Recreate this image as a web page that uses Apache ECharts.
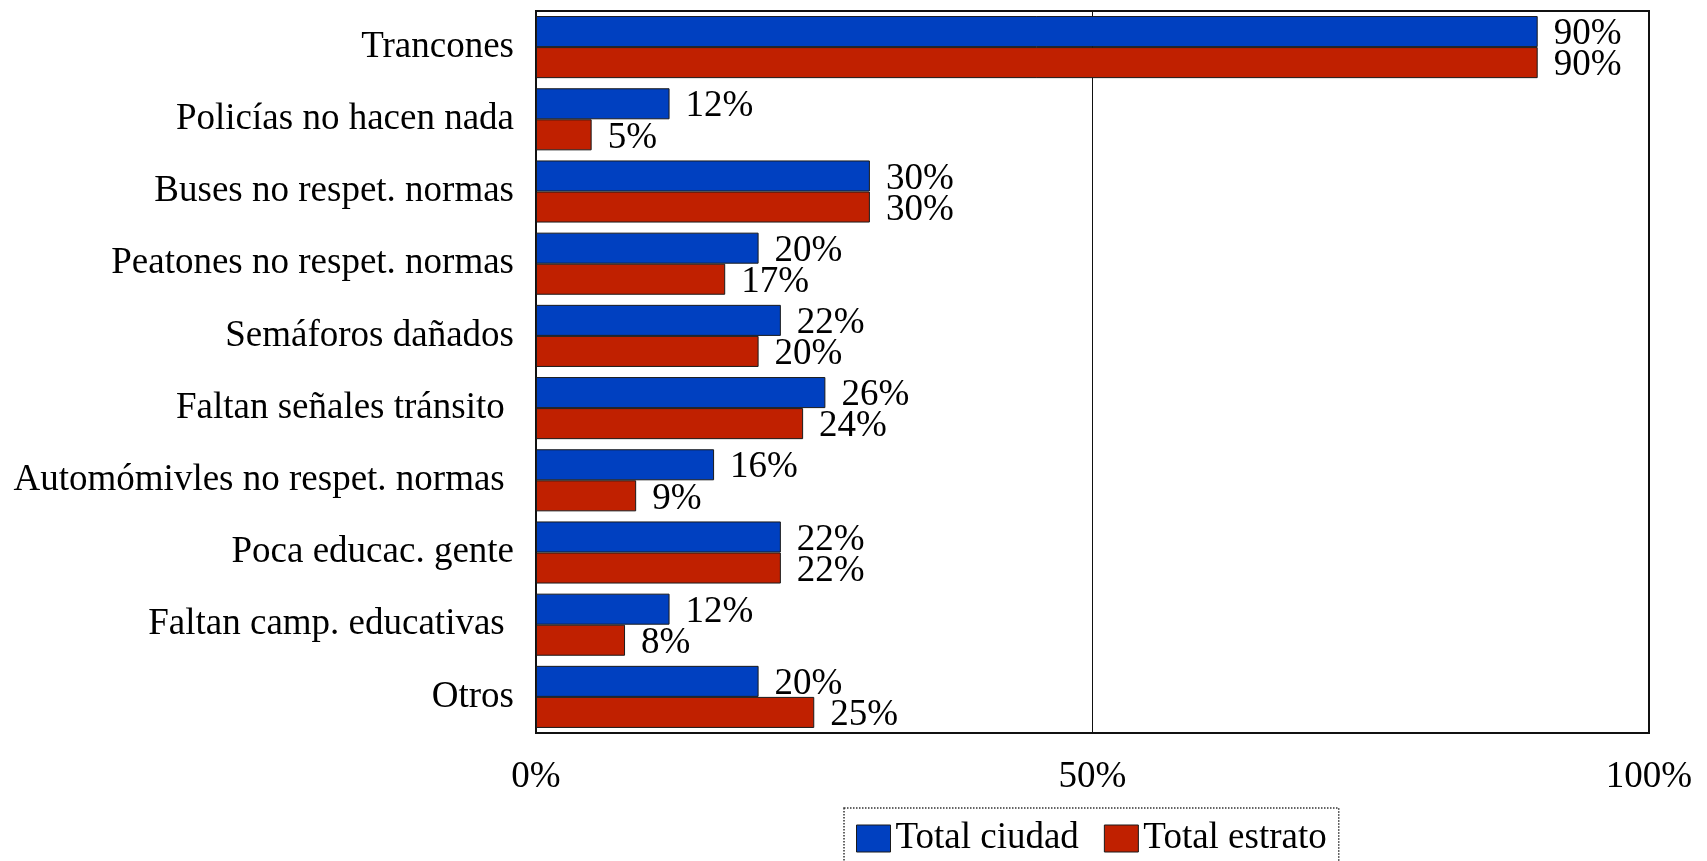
<!DOCTYPE html>
<html>
<head>
<meta charset="utf-8">
<script src="https://cdn.jsdelivr.net/npm/echarts@6/dist/echarts.min.js"></script>
<style>
html,body{margin:0;padding:0;background:#fff;}
#c{width:1707px;height:861px;}
</style>
</head>
<body>
<div id="c"></div>
<script>
const categories = [
  "Trancones",
  "Policías no hacen nada",
  "Buses no respet. normas",
  "Peatones no respet. normas",
  "Semáforos dañados",
  "Faltan señales tránsito ",
  "Automómivles no respet. normas ",
  "Poca educac. gente",
  "Faltan camp. educativas ",
  "Otros"
];
const seriesNames = ["Total ciudad", "Total estrato"];
const totalCiudad = [90, 12, 30, 20, 22, 26, 16, 22, 12, 20];
const totalEstrato = [90, 5, 30, 17, 20, 24, 9, 22, 8, 25];
const xTicks = [0, 50, 100];

const FONT = '"Liberation Serif", "Times New Roman", serif';
const chart = echarts.init(document.getElementById('c'), null, {renderer: 'canvas'});

function barSeries(name, data, color) {
  return {
    name: name,
    type: 'bar',
    data: data,
    barGap: '0%',
    barCategoryGap: '14%',
    itemStyle: {color: color, borderColor: '#1a1a1a', borderWidth: 1},
    label: {
      show: true,
      position: 'right',
      distance: 16,
      formatter: '{c}%',
      fontFamily: FONT,
      fontSize: 37,
      color: '#000',
      offset: [0, 3]
    },
    emphasis: {disabled: true},
    animation: false
  };
}

chart.setOption({
  animation: false,
  backgroundColor: '#fff',
  grid: {
    left: 536, right: 58, top: 11, bottom: 128,
    show: true, borderColor: '#111', borderWidth: 2, containLabel: false
  },
  legend: {
    data: seriesNames,
    top: 808,
    left: 844,
    icon: 'rect',
    itemWidth: 34,
    itemHeight: 27,
    itemGap: 25,
    padding: [12, 12, 30, 12],
    borderColor: '#333',
    borderWidth: 1.5,
    borderType: 'dotted',
    textStyle: {fontFamily: FONT, fontSize: 37, color: '#000'},
    itemStyle: {borderColor: '#1a1a1a', borderWidth: 1}
  },
  xAxis: {
    type: 'value',
    min: 0, max: 100, interval: 50,
    axisLine: {show: false},
    axisTick: {show: false},
    splitLine: {show: true, lineStyle: {color: '#111', width: 1}},
    axisLabel: {
      fontFamily: FONT, fontSize: 37, color: '#000', margin: 26,
      formatter: function (v) { return xTicks.indexOf(v) >= 0 ? v + '%' : ''; }
    }
  },
  yAxis: {
    type: 'category',
    data: categories,
    inverse: true,
    axisLine: {show: true, lineStyle: {color: '#111', width: 2}},
    axisTick: {show: false},
    axisLabel: {fontFamily: FONT, fontSize: 37, color: '#000', margin: 22}
  },
  series: [
    barSeries(seriesNames[0], totalCiudad, '#0040C0'),
    barSeries(seriesNames[1], totalEstrato, '#C02000')
  ]
});
</script>
</body>
</html>
